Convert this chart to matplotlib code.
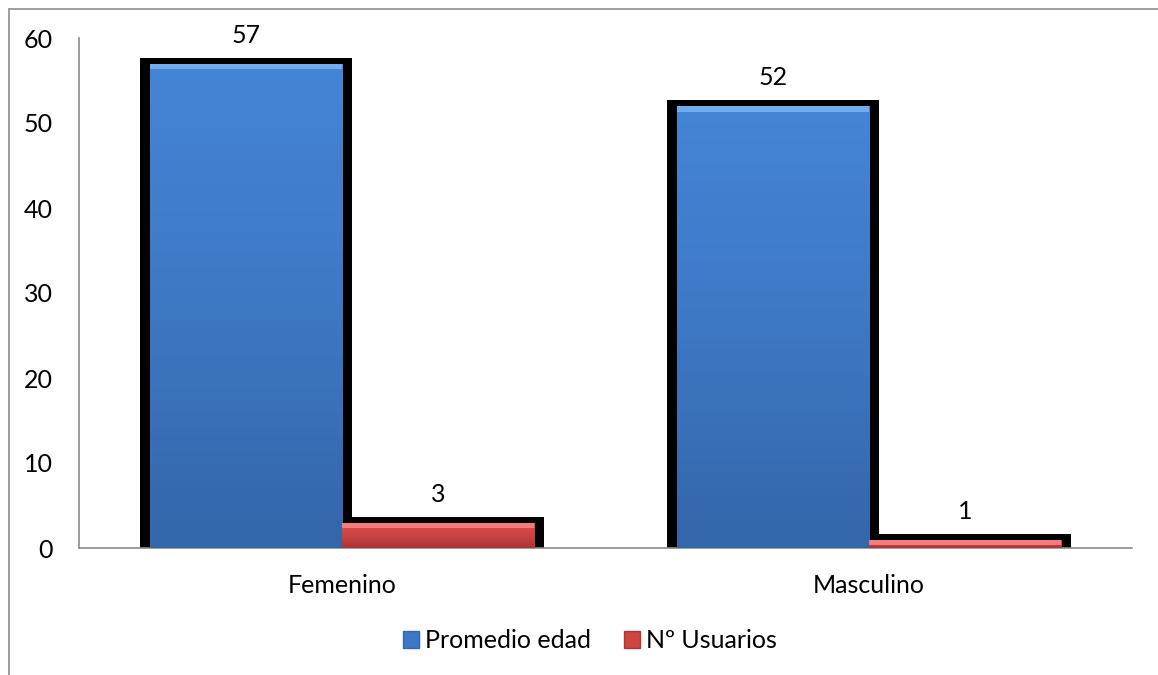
import numpy as np
import matplotlib.pyplot as plt
from matplotlib.patches import Patch, Rectangle
from matplotlib.colors import LinearSegmentedColormap

categorias = ['Femenino', 'Masculino']
promedio_edad = [57, 52]
n_usuarios = [3, 1]
series = ['Promedio edad', 'Nº Usuarios']

# colores: (claro arriba, cara, oscuro abajo, bisel)
azul = ('#4585d6', '#3d78c4', '#3466aa', '#72acef')
rojo = ('#dc5150', '#cc4443', '#ab3533', '#f47c7c')

plt.rcParams['font.family'] = ['Lato', 'DejaVu Sans']

fig = plt.figure(figsize=(11.58, 6.75), dpi=100)
ax = fig.add_axes([79 / 1158, 1 - 548 / 675, (1132 - 79) / 1158, 510 / 675])

# marco exterior del gráfico
fig.patches.append(Rectangle((9 / 1158, -0.1), 1.2, 1 - 9 / 675 + 0.1,
                             transform=fig.transFigure, fill=False,
                             edgecolor='#8c8c8c', linewidth=1.2, zorder=0))

x = np.arange(len(categorias))
ancho = 0.365
sombra_x = 0.019
sombra_y = 0.65
bisel = 0.7

def dibujar(pos, valores, col):
    # sombra negra
    ax.bar(pos, [v + sombra_y for v in valores], width=ancho + 2 * sombra_x,
           color='black', zorder=1, linewidth=0)
    barras = ax.bar(pos, valores, width=ancho, color=col[1], zorder=2, linewidth=0)
    cmap = LinearSegmentedColormap.from_list('g', [col[2], col[1], col[0]])
    for b in barras:
        x0, y0 = b.get_x(), b.get_y()
        w, h = b.get_width(), b.get_height()
        grad = np.linspace(0, 1, 100).reshape(-1, 1)
        im = ax.imshow(grad, extent=(x0, x0 + w, y0, y0 + h), origin='lower',
                       cmap=cmap, aspect='auto', zorder=3)
        im.set_clip_path(b)
        bh = min(bisel, h * 0.6)
        ax.bar(x0 + w / 2, bh, bottom=h - bh, width=w, color=col[3],
               zorder=4, linewidth=0)
    for p, v in zip(pos, valores):
        ax.annotate(str(v), (p, v), xytext=(0, 12), textcoords='offset points',
                    ha='center', va='bottom', fontsize=18)

dibujar(x - ancho / 2, promedio_edad, azul)
dibujar(x + ancho / 2, n_usuarios, rojo)

ax.set_xlim(-0.5, 1.5)
ax.set_ylim(0, 60)
ax.set_yticks(range(0, 61, 10))
ax.set_xticks(x)
ax.set_xticklabels(categorias)
ax.tick_params(axis='both', length=0, labelsize=18)
ax.tick_params(axis='x', pad=19)
ax.tick_params(axis='y', pad=19)
for s in ['top', 'right']:
    ax.spines[s].set_visible(False)
for s in ['left', 'bottom']:
    ax.spines[s].set_color('#8c8c8c')
    ax.spines[s].set_linewidth(1.2)

handles = [Patch(facecolor=azul[1], edgecolor=azul[2]),
           Patch(facecolor=rojo[1], edgecolor=rojo[2])]
fig.legend(handles, series, loc='center', bbox_to_anchor=(590 / 1158, 1 - 641 / 675),
           ncol=2, frameon=False, fontsize=18, handlelength=0.65, handleheight=0.65,
           handletextpad=0.25, columnspacing=1.3)

fig.savefig('out.png', dpi=100)
